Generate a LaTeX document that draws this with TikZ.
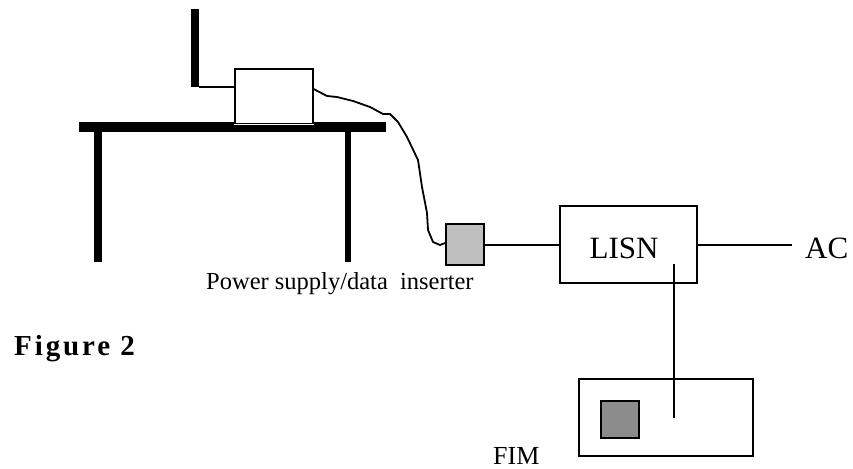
\documentclass[tikz,border=0pt]{standalone}
\usepackage{fontspec}
\setmainfont{Liberation Serif}
\definecolor{supplycolor}{gray}{0.75}
\definecolor{metercolor}{gray}{0.55}
\tikzset{
	box/.style={draw, line width=2.2pt, inner sep=0pt, anchor=north west},
	thinbox/.style={box, line width=1.6pt, fill=white},
	bar/.style={fill=black},
	wire/.style={line width=2pt},
}
\begin{document}
\begin{tikzpicture}[x=1pt, y=-1pt]
	\useasboundingbox (0, 0) rectangle (853, 468);
	% Table and mast {{{
	\fill[bar] (79, 122) rectangle (386, 132);
	\fill[bar] (94, 132) rectangle (102, 262);
	\fill[bar] (345, 132) rectangle (351, 262);
	\fill[bar] (191, 9) rectangle (199, 87);
	% }}}
	\node[thinbox, minimum width=78pt, minimum height=55pt] (device) at (234, 68) {};
	\draw[white, line width=1.6pt] (device.south west) -- (device.south east);
	\node[box, fill=supplycolor, minimum width=38pt, minimum height=41pt] (supply) at (445, 223) {};
	\node[box, minimum width=137pt, minimum height=77pt] (lisn) at (559, 205) {};
	\node[anchor=base, font=\fontsize{31}{31}\selectfont] at (624, 258) {LISN};
	\node[box, minimum width=174pt, minimum height=77pt] (fim) at (578, 378) {};
	\node[box, fill=metercolor, minimum width=38pt, minimum height=37pt] (meter) at (600, 400) {};
	\node[anchor=base west, font=\fontsize{31}{31}\selectfont, inner sep=0pt] (ac) at (805, 258) {AC};
	\coordinate (acend) at (792, 245);
	\coordinate (probetop) at (674, 264);
	\coordinate (probeend) at (674, 418);
	\coordinate (mastfoot) at (199, 87);
	% Connections {{{
	\draw[line width=1.6pt] (mastfoot) -- (device.west |- mastfoot);
	\draw[line width=1.8pt, line join=round] (device.east |- 0, 89) -- (327, 96) -- (337, 97) -- (353, 101) -- (370, 107) -- (383, 114) -- (390, 114) -- (398, 122) -- (407, 137) -- (418, 160) -- (422, 187) -- (427, 213) -- (428, 230) -- (433, 242) -- (440, 245) -- (supply.west |- 0, 243);
	\draw[wire] (supply.east |- 0, 245) -- (lisn.west |- 0, 245);
	\draw[wire] (lisn.east |- 0, 245) -- (acend);
	\draw[wire] (probetop) -- (probeend);
	% }}}
	\node[anchor=base west, font=\fontsize{24.5}{24.5}\selectfont, inner sep=0pt] (label) at (206, 289) {Power supply/data\ \ inserter};
	\node[anchor=base west, font=\fontsize{26}{26}\selectfont, inner sep=0pt] (fimlabel) at (493, 464) {FIM};
	\node[anchor=base west, font=\fontsize{29}{29}\selectfont\bfseries\addfontfeature{LetterSpace=10}, inner sep=0pt] (title) at (14, 355) {Figure 2};
\end{tikzpicture}
\end{document}
